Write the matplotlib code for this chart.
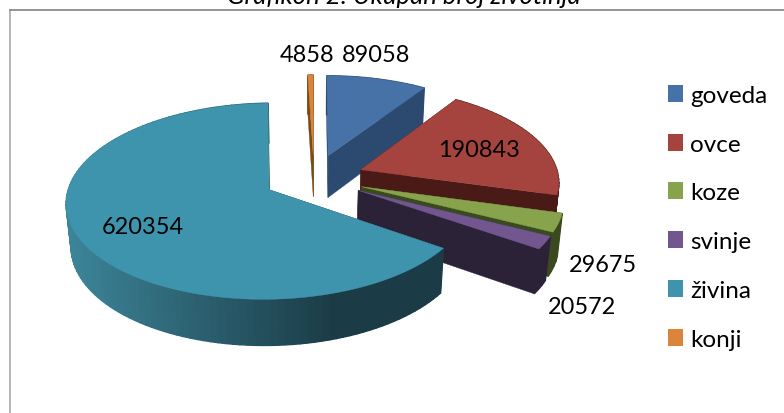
import numpy as np
import matplotlib
matplotlib.use('Agg')
import matplotlib.pyplot as plt
from matplotlib.patches import Patch, Polygon

plt.rcParams['font.family'] = ['Lato', 'DejaVu Sans']

# Data
labels = ['goveda', 'ovce', 'koze', 'svinje', 'živina', 'konji']
values = [89058, 190843, 29675, 20572, 620354, 4858]

# Colours
top_colors = ['#4672a8', '#a5433f', '#87a34c', '#71568f', '#3f94ad', '#db843c']
side_colors = ['#2c4a70', '#4a1a17', '#3a4a1e', '#2c2238', '#1b3c47', '#7a4a18']

# Projection of the exploded pie, in pixels
cx, cy = 314, 179
rx, ry = 198, 94
persp = 0.116
thick = 43.5
shrink = 0.02
explode = 0.255


def project(u, v, z=0.0):
    den = 1 + persp * v + shrink * z
    return cx + rx * u / den, cy - ry * v / den + thick * z / den


def poly(ax, pts, color, z, lw=0.3):
    ax.add_patch(Polygon(pts, closed=True, fc=color, ec=color, lw=lw, zorder=z))


fig = plt.figure(figsize=(7.84, 4.14), dpi=100)
ax = fig.add_axes([0, 0, 1, 1])
ax.set_xlim(0, 784)
ax.set_ylim(414, 0)
ax.axis('off')

# Chart frame
ax.plot([10, 10], [414, 10.5], color='#b0b0b0', lw=1.3, zorder=1)
ax.plot([10, 784], [10.5, 10.5], color='#8c8c8c', lw=1.3, zorder=1)

angles = np.cumsum([0] + values) / sum(values) * 2 * np.pi
z = 2
for i in range(len(values)):
    a0, a1 = angles[i], angles[i + 1]
    mid = (a0 + a1) / 2
    ox, oy = explode * np.sin(mid), explode * np.cos(mid)
    t = np.linspace(a0, a1, max(int((a1 - a0) * 30), 3))
    us = ox + np.sin(t)
    vs = oy + np.cos(t)

    # radial cut faces
    for a_u, a_v in ((us[0], vs[0]), (us[-1], vs[-1])):
        poly(ax, [project(ox, oy), project(a_u, a_v), project(a_u, a_v, 1), project(ox, oy, 1)],
             side_colors[i], z)

    # outer rim, shaded along the big slice
    for k in range(len(t) - 1):
        c = side_colors[i]
        if labels[i] == 'živina':
            x_pos = project(us[k], vs[k])[0]
            f = np.clip((x_pos - 70) / 265, 0, 1)
            c = tuple((1 - f) * np.array([60, 132, 152]) / 255 + f * np.array([27, 60, 71]) / 255)
        poly(ax, [project(us[k], vs[k]), project(us[k + 1], vs[k + 1]),
                  project(us[k + 1], vs[k + 1], 1), project(us[k], vs[k], 1)], c, z, lw=1.0)

    # top face
    pts = [project(ox, oy)] + [project(a, b) for a, b in zip(us, vs)]
    poly(ax, pts, top_colors[i], z + 1)
    z += 2

# Value labels
value_pos = [(376, 56), (479, 151), (603, 266), (582, 308), (143, 228), (307, 55)]
for val, (px, py) in zip(values, value_pos):
    ax.text(px, py, str(val), fontsize=16.9, ha='center', va='center', color='black', zorder=30)

ax.text(404, 4, 'Grafikon 2: Ukupan broj životinja', fontsize=18.5, style='italic',
        ha='center', va='baseline', color='black', zorder=30)

handles = [Patch(fc=c, ec='none') for c in top_colors]
ax.legend(handles, labels, loc='upper left', bbox_to_anchor=(668 / 784, 1 - 86 / 414), frameon=False,
          fontsize=17.5, handlelength=0.62, handleheight=0.7, handletextpad=0.3,
          labelspacing=1.14, borderpad=0, borderaxespad=0)

fig.savefig('out.png', dpi=100)
